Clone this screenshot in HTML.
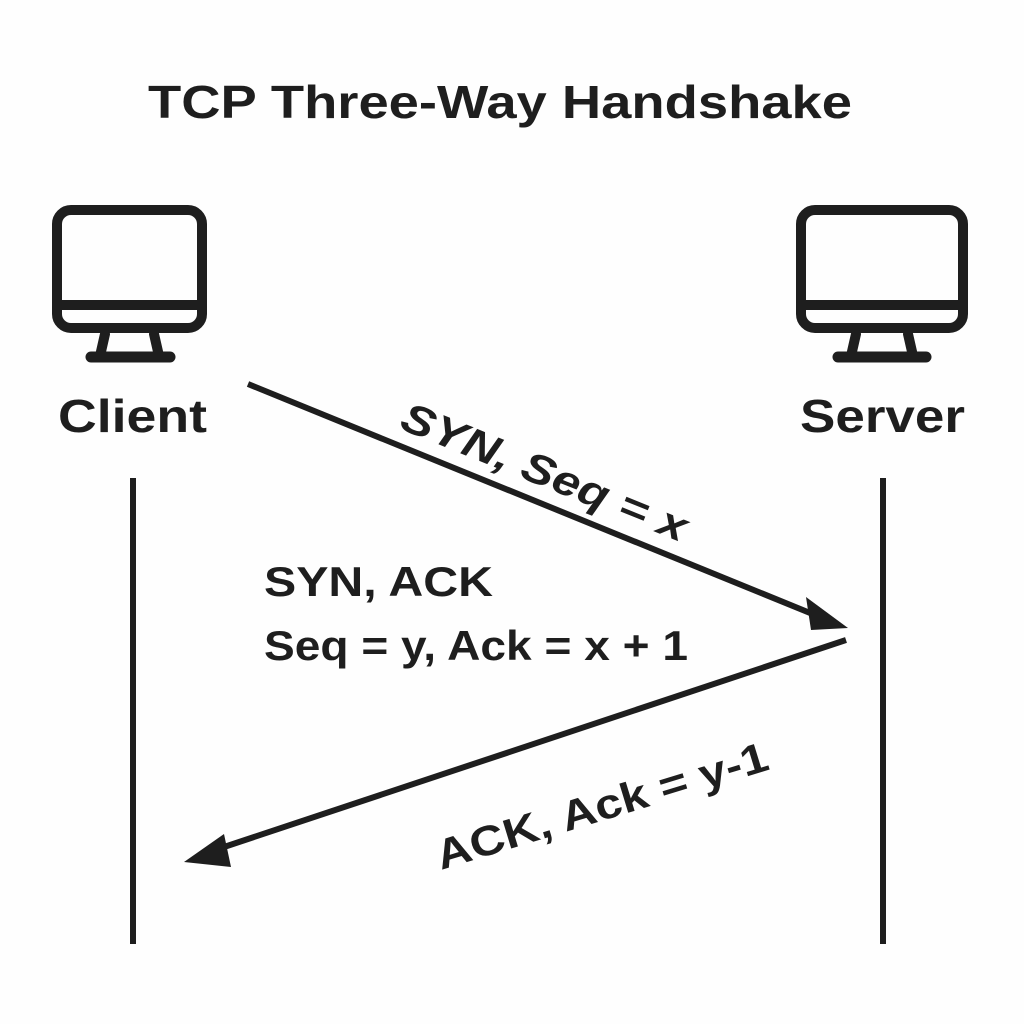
<!DOCTYPE html>
<html><head><style>
html,body{margin:0;padding:0;background:#fefefe;}
svg{display:block}
text{font-family:"Liberation Sans",sans-serif;fill:#1e1e1e;font-weight:bold}
</style></head><body>
<svg width="1024" height="1024" viewBox="0 0 1024 1024">
<rect width="1024" height="1024" fill="#fefefe"/>
<text x="148" y="118" font-size="46" textLength="704" lengthAdjust="spacingAndGlyphs">TCP Three-Way Handshake</text>
<g fill="none" stroke="#1e1e1e" stroke-width="10" stroke-linejoin="round" stroke-linecap="round">
  <rect x="57" y="210" width="145" height="118" rx="14"/>
  <line x1="57" y1="305" x2="202" y2="305"/>
  <path d="M105 334 L100 356 M154 334 L159 356"/>
  <line x1="91" y1="357" x2="170" y2="357" stroke-width="11"/>
  <rect x="801" y="210" width="162" height="118" rx="14"/>
  <line x1="801" y1="305" x2="963" y2="305"/>
  <path d="M856 334 L851 356 M908 334 L913 356"/>
  <line x1="838" y1="357" x2="926" y2="357" stroke-width="11"/>
</g>
<text x="58" y="432" font-size="46" textLength="149" lengthAdjust="spacingAndGlyphs">Client</text>
<text x="800" y="432" font-size="46" textLength="165" lengthAdjust="spacingAndGlyphs">Server</text>
<g stroke="#1e1e1e" stroke-width="6">
  <line x1="133" y1="478" x2="133" y2="944"/>
  <line x1="883" y1="478" x2="883" y2="944"/>
  <line x1="248" y1="384" x2="815" y2="615"/>
  <line x1="846" y1="640" x2="215" y2="850"/>
</g>
<polygon points="848,628 806,597 811,630" fill="#1e1e1e"/>
<polygon points="184,862 224,834 231,867" fill="#1e1e1e"/>
<text x="0" y="0" font-size="42" font-style="italic" textLength="305" lengthAdjust="spacingAndGlyphs" transform="translate(398,428) rotate(22)">SYN, Seq = x</text>
<text x="264" y="596" font-size="42" textLength="229" lengthAdjust="spacingAndGlyphs">SYN, ACK</text>
<text x="264" y="660" font-size="42" textLength="424" lengthAdjust="spacingAndGlyphs">Seq = y, Ack = x + 1</text>
<text x="0" y="0" font-size="42" textLength="345" lengthAdjust="spacingAndGlyphs" transform="translate(441,870) rotate(-17)">ACK, Ack = y-1</text>
</svg>
</body></html>
